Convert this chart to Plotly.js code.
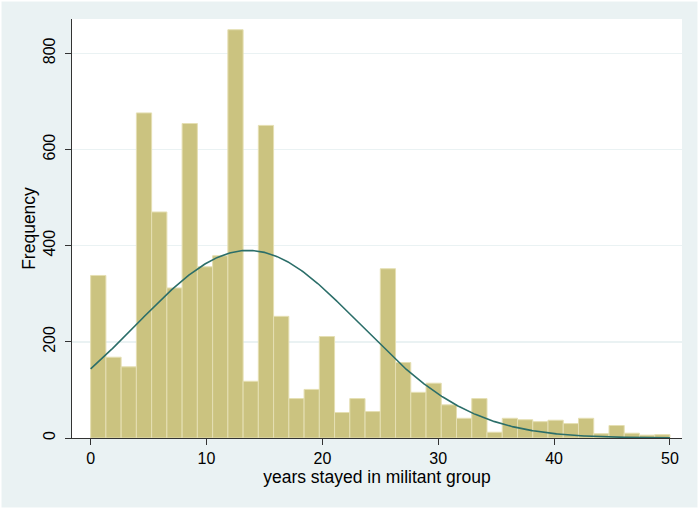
<!DOCTYPE html>
<html>
<head>
<meta charset="utf-8">
<script src="https://cdn.plot.ly/plotly-3.0.1.min.js"></script>
<style>
html,body{margin:0;padding:0;background:#ffffff;}
#chart{width:699px;height:509px;}
</style>
</head>
<body>
<div id="chart"></div>
<script>
// Histogram: 38 equal bins spanning 0 to 50 years
const binStart = 0;
const binEnd = 50;
const counts = [338, 168, 148, 676, 470, 312, 654, 356, 379, 849,
                118, 650, 253, 82, 101, 211, 53, 82, 55, 352,
                157, 95, 114, 69, 41, 82, 12, 41, 38, 34,
                37, 30, 41, 9, 26, 10, 6, 7];
// Normal overlay parameters
const normalMean = 13.6;
const normalSD = 9.63;
const xTicks = [0, 10, 20, 30, 40, 50];
const yTicks = [0, 200, 400, 600, 800];

const nBins = counts.length;
const binWidth = (binEnd - binStart) / nBins;
const centers = counts.map((_, i) => binStart + binWidth * (i + 0.5));
const total = counts.reduce((a, b) => a + b, 0);

const curveX = [], curveY = [];
for (let k = 0; k <= 500; k++) {
  const x = binStart + (binEnd - binStart) * k / 500;
  const z = (x - normalMean) / normalSD;
  curveX.push(x);
  curveY.push(total * binWidth * Math.exp(-0.5 * z * z) / (normalSD * Math.sqrt(2 * Math.PI)));
}

const font = "'Liberation Sans', Arial, Helvetica, sans-serif";

const traces = [
  {
    type: 'bar', x: centers, y: counts, width: binWidth,
    marker: {color: '#CBC380', line: {color: '#E5DFB3', width: 1}},
    hoverinfo: 'x+y'
  },
  {
    type: 'scatter', mode: 'lines', x: curveX, y: curveY,
    line: {color: '#2B6E69', width: 1.6}, hoverinfo: 'skip'
  }
];

const layout = {
  width: 699, height: 509,
  margin: {l: 72, r: 17, t: 19, b: 71},
  paper_bgcolor: '#EAF2F3',
  plot_bgcolor: '#FFFFFF',
  showlegend: false,
  bargap: 0,
  font: {family: font, color: '#000000', size: 16},
  xaxis: {
    range: [-1.61, 51.04],
    tickmode: 'array', tickvals: xTicks, ticktext: xTicks.map(String),
    ticks: 'outside', ticklen: 6, tickcolor: '#333333', tickwidth: 1,
    showline: true, linecolor: '#333333', linewidth: 1,
    showgrid: false, zeroline: false,
    tickfont: {size: 16, family: font},
    title: {text: 'years stayed in militant group', font: {size: 17.5, family: font}, standoff: 4}
  },
  yaxis: {
    range: [0, 871.3],
    tickmode: 'array', tickvals: yTicks, ticktext: yTicks.map(String),
    tickangle: -90,
    ticklabelstandoff: 4,
    ticks: 'outside', ticklen: 6, tickcolor: '#333333', tickwidth: 1,
    showline: true, linecolor: '#333333', linewidth: 1,
    showgrid: true, gridcolor: '#EAF2F3', gridwidth: 1.5,
    zeroline: false,
    tickfont: {size: 16, family: font},
    title: {text: 'Frequency', font: {size: 17.5, family: font}, standoff: 0}
  },
  shapes: [
    {type: 'rect', xref: 'paper', yref: 'paper',
     x0: -72/610, x1: 1 + 17/610, y0: -71/419, y1: 1 + 19/419,
     line: {color: '#FFFFFF', width: 3}, fillcolor: 'rgba(0,0,0,0)', layer: 'above'}
  ]
};

Plotly.newPlot('chart', traces, layout, {displayModeBar: false, staticPlot: true});
</script>
</body>
</html>
